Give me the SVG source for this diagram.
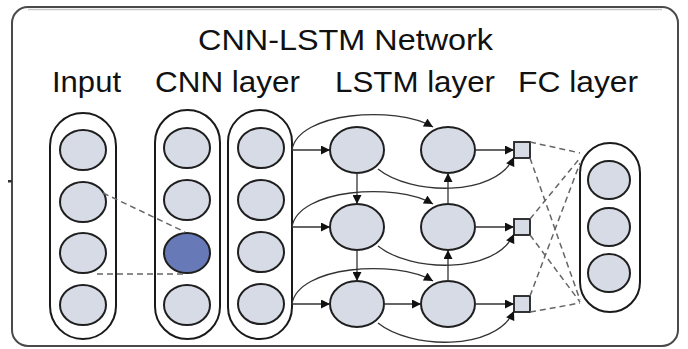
<svg xmlns="http://www.w3.org/2000/svg" width="688" height="349" viewBox="0 0 688 349">
  <defs>
    <marker id="arrow" viewBox="0 0 10 10" refX="10" refY="5" markerWidth="10" markerHeight="9" markerUnits="userSpaceOnUse" orient="auto">
      <path d="M0,0 L10,5 L0,10 z" fill="#111"/>
    </marker>
    <style>
      .label { font-family: "Liberation Sans", Arial, sans-serif; fill: #111; }
      .pill { fill: #fff; stroke: #1a1a1a; stroke-width: 2; }
      .cell { fill: #d6dbe6; stroke: #1f1f1f; stroke-width: 2; }
      .hot { fill: #6879b7; }
      .gate { fill: #d6dbe6; stroke: #1f1f1f; stroke-width: 1.8; }
      .link { fill: none; stroke: #333; stroke-width: 1.3; }
      .arr { marker-end: url(#arrow); }
      .dash { fill: none; stroke: #666; stroke-width: 1.5; stroke-dasharray: 6 4; }
    </style>
  </defs>

  <rect width="688" height="349" fill="#fff"/>

  <!-- outer frame -->
  <g id="frame">
    <rect x="12" y="7" width="666" height="339" rx="16" fill="#fff" stroke="#4a4a4a" stroke-width="2"/>
    <path d="M28,9.5 H662" stroke="#c8c8c8" stroke-width="1.5"/>
    <rect x="8" y="180" width="4" height="2.5" fill="#333"/>
  </g>

  <!-- titles -->
  <g id="titles">
    <text class="label" x="198" y="50" font-size="29" textLength="295" lengthAdjust="spacingAndGlyphs">CNN-LSTM Network</text>
    <text class="label" x="52" y="92" font-size="29" textLength="69" lengthAdjust="spacingAndGlyphs">Input</text>
    <text class="label" x="155" y="92" font-size="29" textLength="145" lengthAdjust="spacingAndGlyphs">CNN layer</text>
    <text class="label" x="335" y="92" font-size="29" textLength="160" lengthAdjust="spacingAndGlyphs">LSTM layer</text>
    <text class="label" x="518" y="92" font-size="29" textLength="120" lengthAdjust="spacingAndGlyphs">FC layer</text>
  </g>

  <!-- input column -->
  <g id="input">
    <rect class="pill" x="50" y="113" width="66" height="226" rx="33"/>
    <ellipse class="cell" cx="83" cy="150" rx="23" ry="20"/>
    <ellipse class="cell" cx="83" cy="202" rx="23" ry="20"/>
    <ellipse class="cell" cx="83" cy="253" rx="23" ry="20"/>
    <ellipse class="cell" cx="83" cy="305" rx="23" ry="20"/>
  </g>

  <!-- CNN feature maps -->
  <g id="cnn-1">
    <rect class="pill" x="155" y="110" width="65" height="229" rx="32.5"/>
    <ellipse class="cell" cx="187" cy="148" rx="23" ry="20"/>
    <ellipse class="cell" cx="187" cy="200" rx="23" ry="20"/>
    <ellipse class="cell hot" cx="187" cy="253" rx="23" ry="20"/>
    <ellipse class="cell" cx="187" cy="305" rx="23" ry="20"/>
  </g>
  <g id="cnn-2">
    <rect class="pill" x="228" y="110" width="64" height="229" rx="32"/>
    <ellipse class="cell" cx="261" cy="148" rx="23" ry="20"/>
    <ellipse class="cell" cx="261" cy="200" rx="23" ry="20"/>
    <ellipse class="cell" cx="261" cy="252" rx="23" ry="20"/>
    <ellipse class="cell" cx="261" cy="304" rx="23" ry="20"/>
  </g>

  <!-- LSTM cells -->
  <g id="lstm-1a"><ellipse class="cell" cx="357" cy="150" rx="27" ry="23"/></g>
  <g id="lstm-1b"><ellipse class="cell" cx="448" cy="150" rx="27" ry="23"/></g>
  <g id="lstm-2a"><ellipse class="cell" cx="357" cy="227" rx="27" ry="23"/></g>
  <g id="lstm-2b"><ellipse class="cell" cx="448" cy="227" rx="27" ry="23"/></g>
  <g id="lstm-3a"><ellipse class="cell" cx="357" cy="304" rx="27" ry="23"/></g>
  <g id="lstm-3b"><ellipse class="cell" cx="448" cy="304" rx="27" ry="23"/></g>

  <!-- LSTM outputs -->
  <g id="out-1"><rect class="gate" x="514" y="142" width="16" height="16"/></g>
  <g id="out-2"><rect class="gate" x="514" y="219" width="16" height="16"/></g>
  <g id="out-3"><rect class="gate" x="514" y="296" width="16" height="16"/></g>

  <!-- fully connected layer -->
  <g id="fc">
    <rect class="pill" x="580" y="143" width="60" height="169" rx="30"/>
    <ellipse class="cell" cx="609" cy="180" rx="21" ry="19"/>
    <ellipse class="cell" cx="609" cy="227" rx="21" ry="19"/>
    <ellipse class="cell" cx="609" cy="273" rx="21" ry="19"/>
  </g>

  <g id="connectors">
    <!-- receptive field of the highlighted unit -->
    <path class="dash" d="M103,193 L185,232"/>
    <path class="dash" d="M97,274 L183,274"/>

    <!-- CNN to LSTM -->
    <path class="link arr" d="M292,150 L330,150"/>
    <path class="link arr" d="M292,227 L330,227"/>
    <path class="link arr" d="M292,304 L330,304"/>
    <path class="link arr" d="M292,150 C298,112 395,105 433,127"/>
    <path class="link arr" d="M292,227 C298,189 395,182 433,204"/>
    <path class="link arr" d="M292,304 C298,266 395,259 433,281"/>

    <!-- vertical recurrences -->
    <path class="link arr" d="M357,173 L357,204"/>
    <path class="link arr" d="M357,250 L357,281"/>
    <path class="link arr" d="M448,204 L448,173"/>
    <path class="link arr" d="M448,281 L448,250"/>

    <!-- horizontal -->
    <path class="link arr" d="M384,304 L421,304"/>
    <path class="link arr" d="M475,150 L514,150"/>
    <path class="link arr" d="M475,227 L514,227"/>
    <path class="link arr" d="M475,304 L514,304"/>

    <!-- skip links to outputs -->
    <path class="link arr" d="M378,169 C410,195 495,198 514,157"/>
    <path class="link arr" d="M378,246 C410,272 495,275 514,234"/>
    <path class="link arr" d="M378,323 C410,349 495,352 514,311"/>

    <!-- outputs to FC -->
    <path class="dash" d="M530,142 L580,153"/>
    <path class="dash" d="M530,158 L580,300"/>
    <path class="dash" d="M530,219 L580,158"/>
    <path class="dash" d="M530,235 L580,302"/>
    <path class="dash" d="M530,296 L580,163"/>
    <path class="dash" d="M530,312 L580,303"/>
  </g>
</svg>
